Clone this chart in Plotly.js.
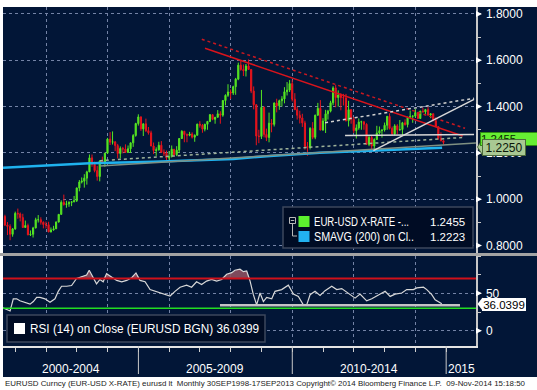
<!DOCTYPE html>
<html><head><meta charset="utf-8">
<script src="https://cdn.plot.ly/plotly-3.0.1.min.js"></script>
<style>html,body{margin:0;padding:0;background:#fff;}#chart{width:537px;height:390px;}</style>
</head><body><div id="chart"></div>
<script>
// ---------- DATA (monthly EUR-USD bars, Aug 2000 .. Nov 2014) ----------
const firstMonth = '2000-08';
const opens = [
 0.9256,0.8882,0.8826,0.8484,0.8717,
 0.9388,0.9364,0.9205,0.8777,0.8865,0.8462,0.8486,0.8757,0.9114,0.9114,0.9006,0.8905,
 0.8895,0.8586,0.8672,0.8721,0.9014,0.9345,0.9863,0.9771,0.9799,0.9862,0.9886,0.9934,
 1.0487,1.0739,1.0779,1.0910,1.1180,1.1787,1.1508,1.1235,1.0979,1.1650,1.1602,1.1990,
 1.2597,1.2463,1.2478,1.2316,1.1975,1.2193,1.2164,1.2019,1.2178,1.2436,1.2753,1.3268,
 1.3554,1.3037,1.3257,1.2962,1.2865,1.2298,1.2103,1.2131,1.2330,1.2024,1.1990,1.1787,
 1.1842,1.2157,1.1921,1.2119,1.2622,1.2934,1.2792,1.2760,1.2816,1.2679,1.2760,1.3242,
 1.3197,1.3025,1.3235,1.3360,1.3651,1.3450,1.3540,1.3686,1.3631,1.4262,1.4486,1.4630,
 1.4590,1.4860,1.5186,1.5790,1.5600,1.5550,1.5755,1.5605,1.4670,1.4080,1.2730,1.2710,
 1.3970,1.2800,1.2665,1.3285,1.3233,1.4154,1.4033,1.4255,1.4330,1.4640,1.4713,1.4994,
 1.4320,1.3865,1.3626,1.3510,1.3295,1.2277,1.2235,1.3060,1.2675,1.3630,1.3925,1.2987,
 1.3380,1.3690,1.3803,1.4165,1.4808,1.4390,1.4502,1.4390,1.4374,1.3387,1.3867,1.3446,
 1.2961,1.3080,1.3330,1.3344,1.3235,1.2367,1.2665,1.2300,1.2577,1.2859,1.2960,1.2989,
 1.3193,1.3579,1.3057,1.2818,1.3168,1.2997,1.3010,1.3302,1.3221,1.3526,1.3582,1.3591,
 1.3743,1.3486,1.3802,1.3771,1.3870,1.3635,1.3692,1.3390,1.3132,1.2630,1.2525
];
const highs = [
 0.9330,0.9012,0.8918,0.8752,0.9464,
 0.9595,0.9426,0.9372,0.9076,0.8946,0.8650,0.8806,0.9200,0.9315,0.9220,0.9040,0.9034,
 0.9026,0.8780,0.8850,0.9040,0.9356,0.9948,1.0199,0.9930,0.9910,0.9915,1.0140,1.0500,
 1.0830,1.0940,1.1080,1.1230,1.1933,1.1930,1.1620,1.1440,1.1680,1.1840,1.2000,1.2650,
 1.2899,1.2928,1.2500,1.2390,1.2280,1.2260,1.2370,1.2320,1.2440,1.2810,1.3300,1.3667,
 1.3580,1.3270,1.3480,1.3120,1.2960,1.2450,1.2240,1.2480,1.2510,1.2150,1.2100,1.2080,
 1.2320,1.2160,1.2290,1.2640,1.2980,1.2950,1.2840,1.2910,1.2890,1.2800,1.3260,1.3370,
 1.3250,1.3260,1.3380,1.3680,1.3660,1.3550,1.3850,1.3800,1.4280,1.4530,1.4966,1.4740,
 1.4900,1.5240,1.5900,1.6020,1.5820,1.5840,1.6038,1.5620,1.4870,1.4100,1.3000,1.4720,
 1.4000,1.3050,1.3740,1.3460,1.4180,1.4340,1.4300,1.4450,1.4840,1.5060,1.5145,1.5140,
 1.4580,1.3990,1.3820,1.3690,1.3390,1.2470,1.3110,1.3330,1.3650,1.4160,1.4280,1.3500,
 1.3860,1.3860,1.4250,1.4880,1.4940,1.4700,1.4580,1.4550,1.4550,1.4250,1.3880,1.3550,
 1.3230,1.3490,1.3390,1.3360,1.3280,1.2750,1.2750,1.2630,1.3170,1.3140,1.3010,1.3310,
 1.3590,1.3710,1.3140,1.3240,1.3240,1.3420,1.3340,1.3450,1.3570,1.3830,1.3620,1.3900,
 1.3770,1.3820,1.3960,1.3900,1.3993,1.3700,1.3700,1.3440,1.3150,1.2890,1.2530
];
const lows = [
 0.8840,0.8450,0.8228,0.8380,0.8680,
 0.9156,0.9040,0.8760,0.8763,0.8440,0.8409,0.8344,0.8740,0.8991,0.8900,0.8740,0.8740,
 0.8577,0.8566,0.8640,0.8710,0.8990,0.9320,0.9720,0.9630,0.9670,0.9700,0.9870,0.9880,
 1.0340,1.0680,1.0500,1.0630,1.1170,1.1400,1.1160,1.0800,1.0770,1.1560,1.1400,1.1970,
 1.2340,1.2360,1.2080,1.1760,1.1760,1.1980,1.2000,1.2000,1.2000,1.2260,1.2700,1.3180,
 1.2950,1.2730,1.2900,1.2790,1.2290,1.1950,1.1870,1.2100,1.2000,1.1870,1.1640,1.1700,
 1.1800,1.1830,1.1860,1.2000,1.2600,1.2460,1.2460,1.2720,1.2620,1.2480,1.2750,1.3090,
 1.2870,1.2930,1.3000,1.3330,1.3410,1.3260,1.3520,1.3260,1.3560,1.4050,1.4420,1.4330,
 1.4500,1.4510,1.5140,1.5550,1.5320,1.5300,1.5580,1.4580,1.3880,1.2330,1.2420,1.2600,
 1.2670,1.2510,1.2457,1.2890,1.3140,1.3750,1.3860,1.4000,1.4140,1.4480,1.4630,1.4220,
 1.3860,1.3440,1.3270,1.3120,1.2140,1.1877,1.2150,1.2590,1.2590,1.3600,1.2970,1.2960,
 1.2860,1.3440,1.3750,1.4060,1.3970,1.4000,1.3840,1.4050,1.3360,1.3140,1.3260,1.2860,
 1.2620,1.3000,1.3000,1.3000,1.2340,1.2290,1.2040,1.2150,1.2560,1.2800,1.2660,1.2920,
 1.3000,1.3010,1.2750,1.2750,1.2800,1.2950,1.2750,1.3180,1.3100,1.3480,1.3300,1.3530,
 1.3480,1.3480,1.3750,1.3670,1.3600,1.3500,1.3370,1.3130,1.2570,1.2500,1.2360
];
const closes = [
 0.8882,0.8826,0.8484,0.8717,0.9388,
 0.9364,0.9205,0.8777,0.8865,0.8462,0.8486,0.8757,0.9114,0.9114,0.9006,0.8905,0.8895,
 0.8586,0.8672,0.8721,0.9014,0.9345,0.9863,0.9771,0.9799,0.9862,0.9886,0.9934,1.0487,
 1.0739,1.0779,1.0910,1.1180,1.1787,1.1508,1.1235,1.0979,1.1650,1.1602,1.1990,1.2597,
 1.2463,1.2478,1.2316,1.1975,1.2193,1.2164,1.2019,1.2178,1.2436,1.2753,1.3268,1.3554,
 1.3037,1.3257,1.2962,1.2865,1.2298,1.2103,1.2131,1.2330,1.2024,1.1990,1.1787,1.1842,
 1.2157,1.1921,1.2119,1.2622,1.2934,1.2792,1.2760,1.2816,1.2679,1.2760,1.3242,1.3197,
 1.3025,1.3235,1.3360,1.3651,1.3450,1.3540,1.3686,1.3631,1.4262,1.4486,1.4630,1.4590,
 1.4860,1.5186,1.5790,1.5600,1.5550,1.5755,1.5605,1.4670,1.4080,1.2730,1.2710,1.3970,
 1.2800,1.2665,1.3285,1.3233,1.4154,1.4033,1.4255,1.4330,1.4640,1.4713,1.4994,1.4320,
 1.3865,1.3626,1.3510,1.3295,1.2277,1.2235,1.3060,1.2675,1.3630,1.3925,1.2987,1.3380,
 1.3690,1.3803,1.4165,1.4808,1.4390,1.4502,1.4390,1.4374,1.3387,1.3867,1.3446,1.2961,
 1.3080,1.3330,1.3344,1.3235,1.2367,1.2665,1.2300,1.2577,1.2859,1.2960,1.2989,1.3193,
 1.3579,1.3057,1.2818,1.3168,1.2997,1.3010,1.3302,1.3221,1.3526,1.3582,1.3591,1.3743,
 1.3486,1.3802,1.3771,1.3870,1.3635,1.3692,1.3390,1.3132,1.2630,1.2525,1.2455
];

// 200-period simple moving average
const smaDates  = ['2000-08-08','2002-02-17','2003-06-05','2005-06-25','2007-01-01','2008-01-31','2009-04-12','2010-11-24','2012-07-12','2013-10-30','2014-11-14'];
const smaValues = [1.136,1.148,1.155,1.162,1.169,1.174,1.187,1.201,1.2095,1.217,1.2223];

// RSI (14)
const rsiDates = ['2000-08-08','2000-10-31','2000-12-08','2001-01-17','2001-02-25','2001-04-25','2001-06-25','2001-08-03','2001-09-12','2001-10-21','2001-12-19',
 '2002-02-17','2002-04-17','2002-05-26','2002-07-04','2002-09-02','2002-10-31','2002-12-29','2003-02-26','2003-04-27','2003-05-28','2003-07-15','2003-08-23',
 '2003-10-02','2003-11-10','2003-12-20','2004-02-18','2004-04-18','2004-06-17','2004-08-15','2004-10-13','2004-12-03','2005-01-20','2005-03-21','2005-05-19',
 '2005-07-17','2005-09-15','2005-11-13','2006-01-11','2006-03-11','2006-05-10','2006-07-27','2006-09-24','2006-11-22','2007-01-21','2007-03-21','2007-05-19',
 '2007-07-18','2007-09-16','2007-11-14','2008-01-13','2008-02-20','2008-04-20','2008-05-31','2008-07-09','2008-08-18','2008-09-26','2008-11-04','2008-12-14',
 '2009-01-23','2009-03-03','2009-05-02','2009-06-10','2009-08-28','2009-11-15','2010-01-14','2010-03-14','2010-05-12','2010-06-21','2010-07-31','2010-09-28',
 '2010-11-26','2011-01-25','2011-04-14','2011-06-12','2011-08-11','2011-10-29','2012-01-16','2012-03-15','2012-06-02','2012-08-01','2012-10-19','2013-01-07',
 '2013-03-07','2013-05-05','2013-07-23','2013-09-20','2013-12-08','2014-01-17','2014-04-07','2014-05-16','2014-07-14','2014-08-23','2014-11-10'];
const rsiValues = [30.5,26.4,42.7,42.7,40,38,35.5,39,44.5,44.5,42.7,
 38,42.7,52.7,59.5,59.5,60.5,70,72.7,74.5,81,70,62.7,
 68.6,65.5,76.4,71.8,67.3,65.5,67.3,70.9,77.3,67.3,65.5,55,
 52.7,50.9,48.2,46.4,52.7,58.2,60.9,58.2,65.5,61.8,66.4,68.6,
 66.4,68.6,75.5,77.7,81,82.3,79,80,66.4,48.2,34.5,50.5,
 39,44.5,42.7,52.7,55,60.9,49,45.9,34.5,34.5,48.2,52.7,
 47.3,53.6,59.5,55,56.4,50.5,43.6,49,40,42.7,47.3,52.7,
 45.9,49,50.5,55,55,57.3,58.2,55,48.2,41.4,36.04];

const rsiLevels = [70, 30];          // overbought / oversold
const rsiSupport = {x0:'2007-08-27', x1:'2015-06-14', y:34};

// hand-drawn trend lines on the price panel: [x0, y0, x1, y1]
const trendRedSolid   = ['2007-03-02',1.652,'2015-07-16',1.273];
const trendRedDotted  = ['2007-01-23',1.691,'2015-08-13',1.3063];
const trendWhiteDot   = ['2011-01-25',1.3305,'2015-11-28',1.436];
const trendWhiteSolid = ['2012-08-20',1.2095,'2015-11-28',1.4315];
const trendWhiteFlat  = ['2011-09-19',1.2752,'2015-11-28',1.2795];
const trendGreyDot    = ['2003-10-02',1.1663,'2015-07-19',1.2665];
const trendGreySolid  = ['2003-10-02',1.1434,'2015-12-20',1.2428];

const priceTicks = [0.8,1.0,1.2,1.4,1.6,1.8];
const rsiTicks = [0,50];
const gridYears = ['2002-01-01','2004-01-01','2006-01-01','2008-01-01','2010-01-01','2012-01-01','2014-01-01'];
const periods = [['2000-2004','2000-01-01','2005-01-01'],['2005-2009','2005-01-01','2010-01-01'],['2010-2014','2010-01-01','2015-01-01'],['2015','2015-01-01','2020-01-01']];
const lastPrice = '1.2455', lastSma = '1.2223', levelTag = '1.2250', lastRsi = '36.0399';
const priceName = 'EUR-USD X-RATE -...', smaName = 'SMAVG (200) on Cl..';
const rsiName = 'RSI (14) on Close (EURUSD BGN) ' + lastRsi;
const footer = 'EURUSD Curncy (EUR-USD X-RATE) eurusd lt  Monthly 30SEP1998-17SEP2013 Copyright\u00a9 2014 Bloomberg Finance L.P.  09-Nov-2014 15:18:50';

// ---------- RENDER ----------
const NAVY = '#021637';
const FONT = 'Liberation Sans, Arial, sans-serif';
const X_RANGE = ['2000-08-08','2015-12-21'];
const ML = 3, MR = 61, MT = 7, MB = 44, W = 537, H = 390;
const PW = W - ML - MR, PH = H - MT - MB;
const px = x => (x - ML) / PW;
const py = y => (H - MB - y) / PH;

const [fy, fm] = firstMonth.split('-').map(Number);
const candleDates = opens.map((_, i) => {
  const m = fm - 1 + i;
  const d = new Date(Date.UTC(fy + Math.floor(m / 12), (m % 12) + 1, 0));
  return d.toISOString().slice(0, 10);
});

const traces = [
  {type:'candlestick', x:candleDates, open:opens, high:highs, low:lows, close:closes,
   xaxis:'x', yaxis:'y', hoverinfo:'skip', showlegend:false, whiskerwidth:0,
   increasing:{line:{color:'#55e622', width:1}, fillcolor:'#55e622'},
   decreasing:{line:{color:'#e8141c', width:1}, fillcolor:'#e8141c'}},
  {type:'scatter', mode:'lines', x:smaDates, y:smaValues, xaxis:'x', yaxis:'y',
   line:{color:'#1fb2ee', width:2.5}, hoverinfo:'skip', showlegend:false},
  {type:'scatter', mode:'lines', x:rsiDates, y:rsiDates.map(() => rsiLevels[0]), xaxis:'x', yaxis:'y2',
   line:{width:0}, hoverinfo:'skip', showlegend:false},
  {type:'scatter', mode:'lines', x:rsiDates, y:rsiValues.map(v => Math.max(v, rsiLevels[0])), xaxis:'x', yaxis:'y2',
   line:{width:0}, fill:'tonexty', fillcolor:'rgba(140,80,96,0.9)', hoverinfo:'skip', showlegend:false},
  {type:'scatter', mode:'lines', x:rsiDates, y:rsiValues, xaxis:'x', yaxis:'y2',
   line:{color:'#d8d8d8', width:1.2}, hoverinfo:'skip', showlegend:false}
];

const shapes = [];
const lineShape = (t, color, dash, width) => shapes.push({type:'line', xref:'x', yref:'y',
  x0:t[0], y0:t[1], x1:t[2], y1:t[3], line:{color, dash, width}});
lineShape(trendGreySolid, '#7f9082', 'solid', 1.5);
lineShape(trendGreyDot, '#9fb39a', 'dot', 1.5);
lineShape(trendRedDotted, '#c81820', 'dot', 1.5);
lineShape(trendRedSolid, '#d8141c', 'solid', 1.5);
lineShape(trendWhiteDot, '#d0d0d0', 'dot', 1.5);
lineShape(trendWhiteSolid, '#d8d8d8', 'solid', 1.5);
lineShape(trendWhiteFlat, '#d8d8d8', 'solid', 1.5);

// RSI levels and support
shapes.push({type:'line', xref:'paper', yref:'y2', x0:0, x1:1, y0:rsiLevels[0], y1:rsiLevels[0], line:{color:'#d0101a', width:2}});
shapes.push({type:'line', xref:'paper', yref:'y2', x0:0, x1:1, y0:rsiLevels[1], y1:rsiLevels[1], line:{color:'#22dd22', width:1.5}});
shapes.push({type:'line', xref:'x', yref:'y2', x0:rsiSupport.x0, x1:rsiSupport.x1, y0:rsiSupport.y, y1:rsiSupport.y, line:{color:'#c4c4c4', width:2.5}});

// frame strips
const rectPx = (x0, y0, x1, y1, fill, line, lw) => shapes.push({type:'rect', xref:'paper', yref:'paper', layer:'above',
  x0:px(x0), x1:px(x1), y0:py(y1), y1:py(y0), fillcolor:fill, line:{color:line || fill, width:lw || 0}});
rectPx(0, 0, 537, 7, '#ffffff');
rectPx(0, 0, 3, 377, '#ffffff');
rectPx(0, 377, 537, 390, '#ffffff');
rectPx(0, 253, 537, 256, '#a3a3a3');

// legend boxes
rectPx(283, 207, 473, 248, '#000c24', '#3c475c', 1.5);
rectPx(7, 315, 265, 342, '#000c24', '#3c475c', 1.5);
rectPx(298.5, 216, 309.5, 227, '#5cf02e');
rectPx(298.5, 231, 309.5, 242, '#22b2f0');
rectPx(14, 323, 25, 334, '#ffffff');
rectPx(289.5, 217.5, 295.5, 223.5, 'rgba(0,0,0,0)', '#b8b8b8', 1);
shapes.push({type:'path', xref:'paper', yref:'paper', layer:'above', line:{color:'#b8b8b8', width:1},
  path:`M ${px(290.8)} ${py(220.5)} L ${px(294.2)} ${py(220.5)} M ${px(292.5)} ${py(223.5)} L ${px(292.5)} ${py(236)} L ${px(297)} ${py(236)}`});

// period separators on the time axis
periods.slice(1).forEach(p => shapes.push({type:'line', xref:'x', yref:'paper', layer:'above',
  x0:p[1], x1:p[1], y0:py(346), y1:py(374), line:{color:'#c8c8c8', width:1}}));

// axis tick pointers
priceTicks.forEach(v => shapes.push({type:'path', xref:'paper', yref:'y', layer:'above', fillcolor:'#ffffff', line:{width:0},
  path:`M ${px(476)} ${v + 0.013} L ${px(482)} ${v} L ${px(476)} ${v - 0.013} Z`}));
rsiTicks.forEach(v => shapes.push({type:'path', xref:'paper', yref:'y2', layer:'above', fillcolor:'#ffffff', line:{width:0},
  path:`M ${px(476)} ${v + 4} L ${px(482)} ${v} L ${px(476)} ${v - 4} Z`}));
// tag pointers
shapes.push({type:'path', xref:'paper', yref:'paper', layer:'above', fillcolor:'#a9c893', line:{color:'#4d6b3c', width:1},
  path:`M ${px(477.5)} ${py(147)} L ${px(482.5)} ${py(139)} L ${px(482.5)} ${py(155)} Z`});
shapes.push({type:'path', xref:'paper', yref:'paper', layer:'above', fillcolor:'#ffffff', line:{width:0},
  path:`M ${px(477.5)} ${py(304)} L ${px(482.5)} ${py(297.5)} L ${px(482.5)} ${py(310.5)} Z`});

const ann = [];
const txt = (text, x, y, anchor, size, color, extra) => ann.push(Object.assign({text, xref:'paper', yref:'paper',
  x:px(x), y:py(y), xanchor:anchor, yanchor:'middle', align:anchor, showarrow:false, borderpad:0,
  font:{family:FONT, size, color}}, extra || {}));
txt(priceName, 313, 221.5, 'left', 12, '#ffffff');
txt(lastPrice, 466, 221.5, 'right', 11.5, '#ffffff');
txt(smaName, 313, 236.5, 'left', 12, '#ffffff');
txt(lastSma, 466, 236.5, 'right', 11.5, '#ffffff');
txt(rsiName, 28.5, 328.5, 'left', 13.5, '#ffffff');
txt(footer, 4, 383.5, 'left', 8, '#1a1a1a');
// right-hand value tags
txt(lastPrice, 480, 139, 'left', 11.5, '#0a2a00', {bgcolor:'#66ee33', bordercolor:'#2f8a12', borderwidth:1, width:56, height:12});
txt(levelTag, 482, 147, 'left', 12, '#0a160a', {bgcolor:'#a9c893', bordercolor:'#4d6b3c', borderwidth:1, width:42, height:15, align:'center'});
txt(lastRsi, 482, 304, 'left', 11.5, '#000000', {bgcolor:'#ffffff', bordercolor:'#ffffff', borderwidth:0, width:44, height:13, align:'center'});

// period labels on the time axis, centred on the visible part of each period
const t0 = Date.parse(X_RANGE[0]), t1 = Date.parse(X_RANGE[1]);
periods.forEach(p => {
  const a = Math.max(Date.parse(p[1]), t0), b = Math.min(Date.parse(p[2]), t1);
  const mid = new Date((a + b) / 2).toISOString().slice(0, 10);
  ann.push({text:p[0], xref:'x', yref:'paper', x:mid, y:py(368.5), xanchor:'center', yanchor:'middle',
    showarrow:false, font:{family:FONT, size:12, color:'#ffffff'}});
});

const gridStyle = {showgrid:true, gridcolor:'#7483a6', griddash:'dot', gridwidth:1};
const layout = {
  width:W, height:H, margin:{l:ML, r:MR, t:MT, b:MB, pad:0},
  paper_bgcolor:NAVY, plot_bgcolor:NAVY, showlegend:false, hovermode:false,
  font:{family:FONT, color:'#ffffff', size:12},
  xaxis:Object.assign({type:'date', range:X_RANGE, anchor:'y2', rangeslider:{visible:false},
    tickmode:'array', tickvals:gridYears, showticklabels:false, ticks:'outside', ticklen:4, tickcolor:'#d0d0d0', tickwidth:1,
    minor:{dtick:'M12', tick0:'2000-01-01', ticks:'outside', ticklen:4, tickcolor:'#d0d0d0', showgrid:false},
    showline:true, linecolor:'#e4e4e4', linewidth:1.5, zeroline:false, fixedrange:true}, gridStyle),
  yaxis:Object.assign({domain:[py(253), 1], range:[0.7676, 1.8302], side:'right', anchor:'x',
    tickmode:'array', tickvals:priceTicks, tickformat:'.4f', ticks:'outside', ticklen:6, tickcolor:'rgba(0,0,0,0)',
    minor:{dtick:0.1, tick0:0.8, ticks:'outside', ticklen:3, tickcolor:'#c8c8c8', showgrid:false},
    tickfont:{family:FONT, size:12, color:'#ffffff'},
    showline:true, linecolor:'#c8c8c8', linewidth:1.5, zeroline:false, fixedrange:true}, gridStyle),
  yaxis2:Object.assign({domain:[0, py(256)], range:[-20.5, 100], side:'right', anchor:'x',
    tickmode:'array', tickvals:rsiTicks, ticks:'outside', ticklen:6, tickcolor:'rgba(0,0,0,0)',
    minor:{dtick:25, tick0:0, ticks:'outside', ticklen:3, tickcolor:'#c8c8c8', showgrid:false},
    tickfont:{family:FONT, size:12, color:'#ffffff'},
    showline:true, linecolor:'#c8c8c8', linewidth:1.5, zeroline:false, fixedrange:true}, gridStyle),
  shapes, annotations:ann
};

// condensed legend/footer texts (the original uses a narrow terminal font)
const fitWidths = {};
fitWidths[priceName] = 95; fitWidths[smaName] = 100; fitWidths[rsiName] = 229; fitWidths[footer] = 520;
Plotly.newPlot('chart', traces, layout, {displayModeBar:false, staticPlot:true}).then(gd => {
  gd.querySelectorAll('.annotation-text').forEach(t => {
    const w = fitWidths[t.textContent];
    if (w) { t.setAttribute('textLength', w); t.setAttribute('lengthAdjust', 'spacingAndGlyphs'); }
  });
});
</script></body></html>
